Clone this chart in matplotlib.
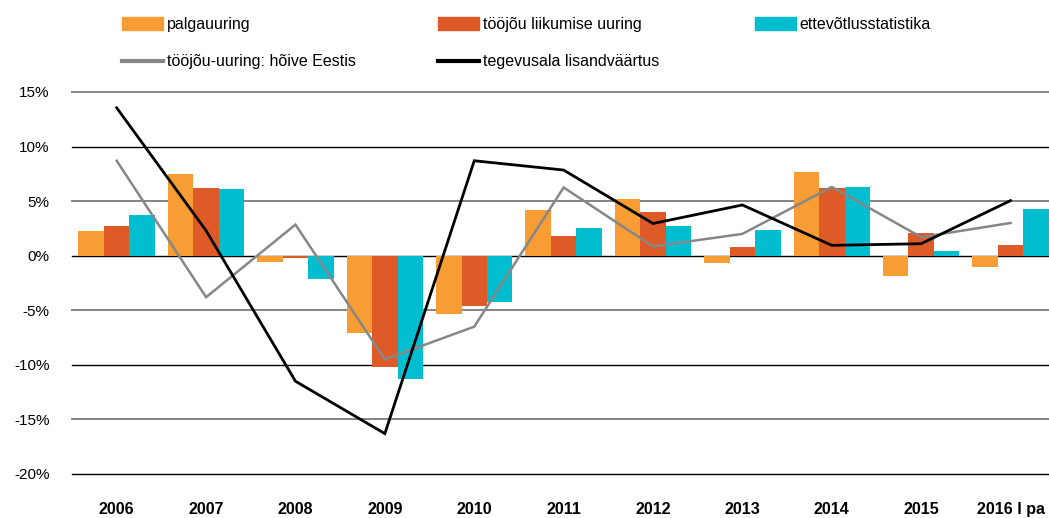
import numpy as np
import matplotlib
matplotlib.use('Agg')
import matplotlib.pyplot as plt
from matplotlib.patches import Patch
from matplotlib.lines import Line2D

plt.rcParams['font.family'] = ['Liberation Sans', 'DejaVu Sans']

# ── data ─────────────────────────────────────────────────────────────────────
years = ['2006', '2007', '2008', '2009', '2010', '2011', '2012', '2013',
         '2014', '2015', '2016 I pa']
palgauuring = [2.3, 7.5, -0.6, -7.1, -5.35, 4.2, 5.2, -0.65, 7.65, -1.9, -1.0]
liikumine   = [2.75, 6.2, -0.25, -10.2, -4.6, 1.85, 4.0, 0.8, 6.2, 2.1, 1.0]
ettevote    = [3.75, 6.1, -2.1, -11.3, -4.2, 2.5, 2.7, 2.35, 6.3, 0.45, 4.3]
hoive       = [8.7, -3.8, 2.85, -9.5, -6.5, 6.25, 0.85, 2.0, 6.3, 1.7, 3.0]
lisandvaartus = [13.55, 2.3, -11.5, -16.3, 8.7, 7.85, 2.95, 4.65, 0.95, 1.1, 5.05]

C_ORANGE = '#F89D33'
C_RED    = '#DE5A27'
C_CYAN   = '#00BDD0'
C_GRAY   = '#878787'

# ── figure ───────────────────────────────────────────────────────────────────
fig = plt.figure(figsize=(10.49, 5.18), dpi=100)
ax = fig.add_axes([72/1049, 1 - 474/518, 1 - 72/1049, (474 - 92)/518])

x = np.arange(len(years))
bw = 0.285
ax.bar(x - bw, palgauuring, width=bw, color=C_ORANGE, zorder=3)
ax.bar(x,      liikumine,   width=bw, color=C_RED,    zorder=3)
ax.bar(x + bw, ettevote,    width=bw, color=C_CYAN,   zorder=3)

ax.plot(x, hoive, color=C_GRAY, lw=1.8, zorder=4, solid_joinstyle='miter')
ax.plot(x, lisandvaartus, color='black', lw=2.0, zorder=5, solid_joinstyle='miter')

# alternating grid lines (black / grey)
for v in range(-20, 16, 5):
    if (v // 5) % 2 == 0:
        ax.axhline(v, color='black', lw=1.0, zorder=1, clip_on=False)
    else:
        ax.axhline(v, color='#7a7a7a', lw=1.3, zorder=1, clip_on=False)

ax.set_ylim(-20, 15)
ax.set_xlim(-0.5, 10.43)
ax.set_yticks(range(-20, 16, 5))
ax.set_yticklabels([f'{v}%' for v in range(-20, 16, 5)], fontsize=11)
ax.set_xticks(x)
ax.set_xticklabels(years, fontsize=11.5, fontweight='bold')
ax.tick_params(axis='y', length=0, pad=16)
ax.tick_params(axis='x', length=0, pad=20)
for s in ax.spines.values():
    s.set_visible(False)

# ── legend: three columns placed by hand ────────────────────────────────────
leg_kw = dict(frameon=False, loc='upper left', fontsize=11.5, borderpad=0,
              borderaxespad=0, handlelength=2.55, handleheight=0.8,
              handletextpad=0.25, labelspacing=1.4)
col1 = [Patch(color=C_ORANGE), Line2D([], [], color=C_GRAY, lw=3)]
col2 = [Patch(color=C_RED), Line2D([], [], color='black', lw=3)]
col3 = [Patch(color=C_CYAN)]
top = 1 - 17/518
fig.legend(col1, ['palgauuring', 'tööjõu-uuring: hõive Eestis'],
           bbox_to_anchor=(122/1049, top), **leg_kw)
fig.legend(col2, ['tööjõu liikumise uuring', 'tegevusala lisandväärtus'],
           bbox_to_anchor=(438/1049, top), **leg_kw)
fig.legend(col3, ['ettevõtlusstatistika'],
           bbox_to_anchor=(755/1049, top), **leg_kw)

fig.savefig('out.png', dpi=100)
